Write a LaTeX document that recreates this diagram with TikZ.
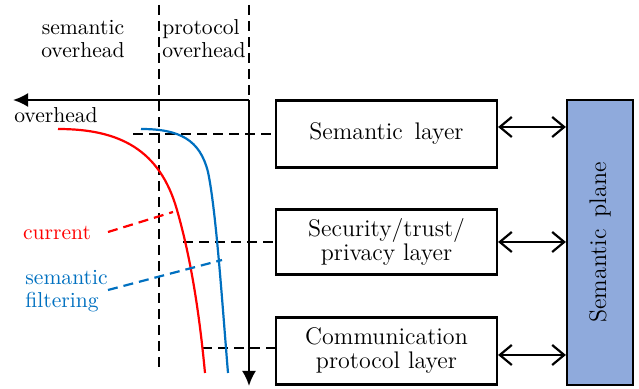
\documentclass[tikz,border=0pt]{standalone}
\usetikzlibrary{arrows.meta}
\definecolor{planefill}{HTML}{8FAADC}
\definecolor{sfblue}{HTML}{0070C0}
\begin{document}
\begin{tikzpicture}[x=0.5pt,y=-0.5pt,
  layerbox/.style={draw,line width=1.1pt,minimum width=110.5pt,minimum height=33.5pt,align=center,font=\large,inner sep=0pt},
  planebox/.style={draw,line width=1.1pt,fill=planefill,minimum width=33pt,minimum height=142.5pt,inner sep=0pt},
  axis/.style={line width=1.1pt,-{Latex[length=7.5pt,width=7pt]}},
  guide/.style={line width=1.1pt,dash pattern=on 5pt off 3pt},
  dbl/.style={line width=1.1pt,{Straight Barb[length=6pt,width=10pt]}-{Straight Barb[length=6pt,width=10pt]}},
  curve/.style={line width=1.1pt},
  lbl/.style={font=\fontsize{10.8}{11.5}\selectfont,inner sep=0pt,align=left}]
\useasboundingbox (0,0) rectangle (639,389);
% labels on top
\node[lbl,align=center] (semov) at (83,39) {semantic\\overhead};
\node[lbl,align=left] (protov) at (204,39) {protocol\\overhead};
% guide lines
\coordinate (v1top) at (159,5);
\coordinate (v1bot) at (159,369);
\coordinate (v2top) at (249,5);
\coordinate (O) at (249,100);
\coordinate (xend) at (13,100);
\coordinate (yend) at (249,386);
\draw[guide] (v1top) -- (v1bot);
\draw[guide] (v2top) -- (O);
\draw[axis] (O) -- (xend);
\draw[axis] (O) -- (yend);
\node[lbl] (ovl) at (56,115) {overhead};
% boxes
\node[layerbox] (sem) at (386.5,134) {Semantic\, layer};
\node[layerbox,minimum height=32.5pt] (sec) at (386.5,242) {Security/trust/\\[-2pt]privacy layer};
\node[layerbox] (com) at (386.5,351) {Communication\\[-2pt]protocol layer};
\node[planebox] (plane) at (600,242.5) {};
\node[rotate=90,font=\large] (planetxt) at (plane.center) {Semantic\, plane};
% dashed level lines
\coordinate (h1) at (133,134);
\coordinate (h2) at (183,242);
\coordinate (h3) at (202,348);
\draw[guide] (h1) -- (sem.west);
\draw[guide] (h2) -- (sec.west);
\draw[guide] (h3) -- (h3 -| com.west);
% double arrows
\draw[dbl] ([yshift=3.5pt]sem.east) -- ([yshift=3.5pt]sem.east -| plane.west);
\draw[dbl] (sec.east) -- (sec.east -| plane.west);
\draw[dbl] ([yshift=-2pt]com.east) -- ([yshift=-2pt]com.east -| plane.west);
% curves
\draw[curve,red] (58,129) .. controls (120,129) and (160,150) .. (177,210) .. controls (192,262) and (200,320) .. (205,373);
\draw[curve,sfblue] (141,129) .. controls (180,129) and (200,140) .. (208,172) .. controls (216,210) and (222,300) .. (228,373);
% curve labels
\node[lbl,text=red] (cur) at (57,233) {current};
\node[lbl,text=sfblue,anchor=west] (sf) at (25,291) {semantic\\filtering};
\coordinate (r1) at (108,232);
\coordinate (r2) at (173,212);
\coordinate (b1) at (108,290);
\coordinate (b2) at (222,260);
\draw[guide,red] (r1) -- (r2);
\draw[guide,sfblue] (b1) -- (b2);
\end{tikzpicture}
\end{document}
